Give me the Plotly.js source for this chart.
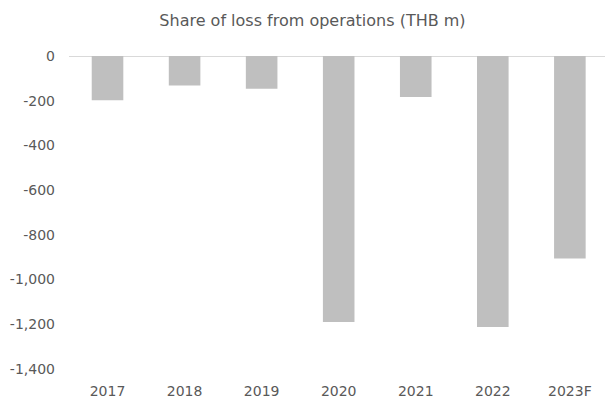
<!DOCTYPE html>
<html>
<head>
<meta charset="utf-8">
<script src="https://cdn.plot.ly/plotly-3.0.1.min.js"></script>
<style>
  html, body { margin: 0; padding: 0; background: #ffffff; }
  #chart { width: 605px; height: 403px; }
</style>
</head>
<body>
<div id="chart"></div>
<script>
// share of loss from operations, THB m
const years = ['2017', '2018', '2019', '2020', '2021', '2022', '2023F'];
const loss = [-198, -132, -147, -1190, -183, -1212, -906];
const tickVals = [0, -200, -400, -600, -800, -1000, -1200, -1400];
const tickText = ['0', '-200', '-400', '-600', '-800', '-1,000', '-1,200', '-1,400'];

const trace = {
  x: years,
  y: loss,
  type: 'bar',
  marker: { color: '#bfbfbf' },
  hoverinfo: 'x+y'
};

const layout = {
  width: 605,
  height: 403,
  margin: { l: 69, r: 0, t: 56, b: 34 },
  paper_bgcolor: '#ffffff',
  plot_bgcolor: '#ffffff',
  font: { family: 'DejaVu Sans, sans-serif', size: 14, color: '#595959' },
  title: {
    text: 'Share of loss from operations (THB m)',
    font: { size: 16, color: '#595959' },
    x: 0.5165,
    xanchor: 'center',
    y: 0.95,
    yanchor: 'middle'
  },
  bargap: 0.59,
  showlegend: false,
  xaxis: {
    type: 'category',
    range: [-0.5, 6.456],
    showline: false,
    showgrid: false,
    ticks: '',
    anchor: 'free',
    position: 0,
    ticklabelstandoff: 12,
    tickfont: { size: 14 }
  },
  yaxis: {
    range: [-1400, 0],
    tickvals: tickVals,
    ticktext: tickText,
    showgrid: false,
    zeroline: true,
    zerolinecolor: '#d9d9d9',
    zerolinewidth: 1,
    showline: false,
    ticks: '',
    ticklabelstandoff: 13,
    tickfont: { size: 14 }
  }
};

Plotly.newPlot('chart', [trace], layout, { displayModeBar: false, staticPlot: true });
</script>
</body>
</html>
